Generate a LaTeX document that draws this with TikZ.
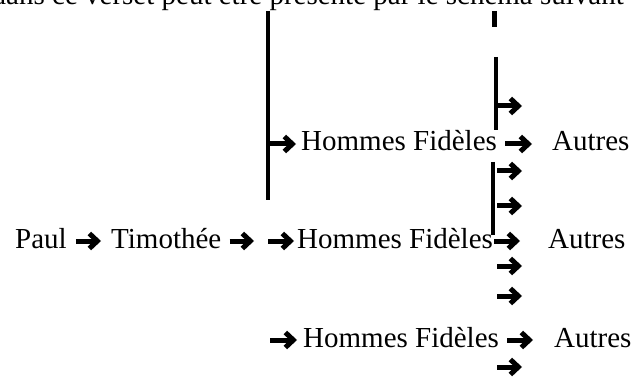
\documentclass[tikz,border=0pt]{standalone}
\usepackage{fontspec}
\setmainfont{Liberation Serif}
\usetikzlibrary{arrows.meta}
\tikzstyle{txt}=[anchor=base west, inner sep=0pt, text height=14pt, text depth=0pt, font=\fontsize{29}{34}\selectfont]
\tikzstyle{fleche}=[line width=5pt, -{Straight Barb[length=8pt,width=15pt]}]
\tikzstyle{barre}=[line width=4.5pt]
\newcommand{\flecheSeule}[3]{
	\coordinate (#1a) at (#2,#3);
	\coordinate (#1b) at (#2+25,#3);
	\draw[fleche] (#1a) -- (#1b);
}

\begin{document}
\begin{tikzpicture}[x=1pt,y=-1pt]
	\path[use as bounding box, fill=white] (0,0) rectangle (631,379);
	\node[txt, anchor=base east] (intro) at (624,5) {dans ce verset peut être présenté par le schéma suivant};
	\draw[barre] (268,11) -- (268,200);
	\draw[barre, line width=5pt] (494,11) -- (494,27);
	\draw[barre] (496,57) -- (496,130);
	\draw[barre] (493,162) -- (493,235);
	\node[txt] (hf1) at (301,151) {Hommes Fidèles};
	\node[txt] (aut1) at (552,151) {Autres};
	\node[txt] (paul) at (15,248) {Paul};
	\node[txt] (timo) at (111,248) {Timothée};
	\node[txt] (hf2) at (297,248) {Hommes Fidèles};
	\node[txt] (aut2) at (548,248) {Autres};
	\node[txt] (hf3) at (303,347) {Hommes Fidèles};
	\node[txt] (aut3) at (554,347) {Autres};
	\coordinate (l1) at (269,144);
	\coordinate (l2) at (268,241);
	\coordinate (m2) at (254,241);
	\coordinate (l3) at (270,340);
	\draw[fleche, shorten >=5pt] (l1) -- (hf1);
	\draw[fleche, shorten <=8pt, shorten >=20pt] (hf1) -- (aut1);
	\draw[fleche, shorten <=9pt, shorten >=10pt] (paul) -- (timo);
	\draw[fleche, shorten <=8pt] (timo) -- (m2);
	\draw[fleche, shorten >=3pt] (l2) -- (hf2);
	\draw[fleche, shorten <=1pt, shorten >=28pt] (hf2) -- (aut2);
	\draw[fleche, shorten >=6pt] (l3) -- (hf3);
	\draw[fleche, shorten <=8pt, shorten >=21pt] (hf3) -- (aut3);
	\flecheSeule{s1}{497}{106}
	\flecheSeule{s2}{497}{171}
	\flecheSeule{s3}{497}{206}
	\flecheSeule{s4}{497}{266}
	\flecheSeule{s5}{497}{296}
	\flecheSeule{s6}{497}{367}
\end{tikzpicture}
\end{document}
